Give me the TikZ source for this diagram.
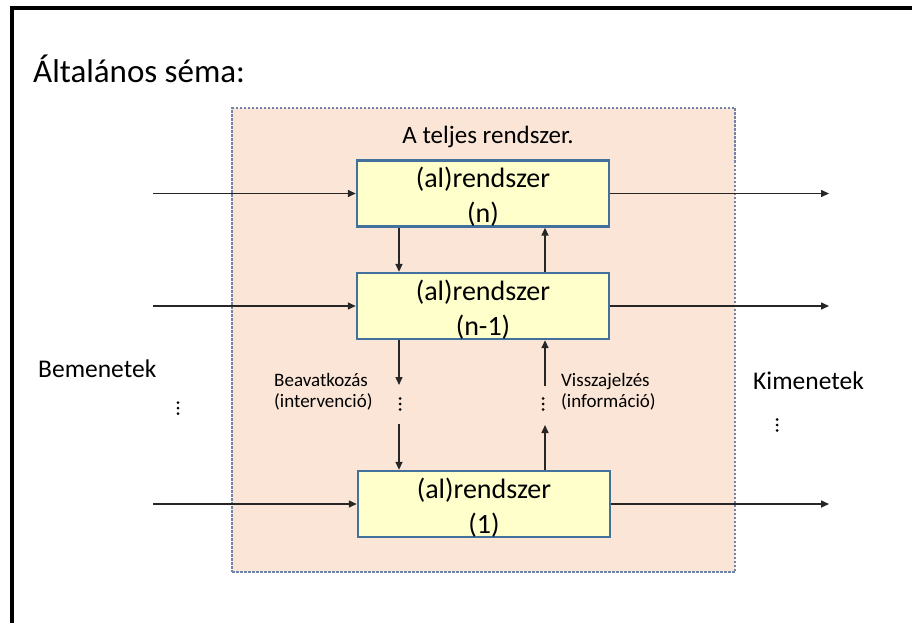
\documentclass[tikz,border=0pt]{standalone}
\usepackage{fontspec}
\setmainfont{Carlito}
\usetikzlibrary{arrows.meta}
\definecolor{sysfill}{HTML}{FBE5D6}
\definecolor{sysedge}{HTML}{6F84A8}
\definecolor{subfill}{HTML}{FFFFCC}
\definecolor{subedge}{HTML}{41719C}
\definecolor{wire}{HTML}{262626}
\tikzset{
  subbox/.style={draw=subedge, fill=subfill, line width=2.5pt,
    minimum width=252pt, minimum height=64pt, inner sep=0pt,
    align=center, font=\fontsize{28}{35}\selectfont},
  flow/.style={draw=wire, line width=1.5pt,
    -{Triangle[length=8pt,width=7pt]}},
  lbl/.style={inner sep=0pt, text=black},
  dot/.style={fill=black, draw=none}
}
% first line of a subsystem box, with a strut that sets the text a little lower
\newcommand{\subtop}[1]{\rule{0pt}{27pt}#1}
\newcommand{\vdotsat}[1]{%
  \fill[dot] (#1) ++(0,-5.5) circle (1.5pt);
  \fill[dot] (#1) circle (1.5pt);
  \fill[dot] (#1) ++(0,5.5) circle (1.5pt);}
\begin{document}
\begin{tikzpicture}[x=1pt,y=-1pt]
\useasboundingbox (0,0) rectangle (912,623);
% slide frame
\draw[line width=4pt, black] (12,623) -- (12,8) -- (912,8);
% title
\node[lbl, anchor=base west, font=\fontsize{33}{40}\selectfont] (title) at (33,83) {Általános séma:};
% whole system area
\node[draw=sysedge, fill=sysfill, dash pattern=on 2.5pt off 1.5pt, line width=1.3pt,
  minimum width=503pt, minimum height=464pt, inner sep=0pt] (sys) at (483.5,340) {};
\node[lbl, anchor=base, font=\fontsize{25}{30}\selectfont] (systitle) at (488,143) {A teljes rendszer.};
% subsystems
\node[subbox] (sn) at (483,193.5) {\subtop{(al)rendszer}\\(n)};
\node[subbox] (snm) at (483,306) {\subtop{(al)rendszer}\\(n-1)};
\node[subbox] (s1) at (484,504) {\subtop{(al)rendszer}\\(1)};
% inputs and outputs
\coordinate (in1) at (153,193.5);
\coordinate (in2) at (153,306);
\coordinate (in3) at (153,504);
\coordinate (out1) at (829,193.5);
\coordinate (out2) at (829,306);
\coordinate (out3) at (829,504);
\draw[flow] (in1) -- (sn.west);
\draw[flow] (in2) -- (snm.west);
\draw[flow] (in3) -- (s1.west);
\draw[flow] (sn.east) -- (out1);
\draw[flow] (snm.east) -- (out2);
\draw[flow] (s1.east) -- (out3);
% control (down) and feedback (up) paths
\coordinate (dx) at (399,0);
\coordinate (ux) at (545,0);
\coordinate (d1) at (399,385);
\coordinate (d2) at (399,424);
\coordinate (u1) at (545,386);
\coordinate (u2) at (545,425);
\draw[flow] (dx |- sn.south) -- (dx |- snm.north);
\draw[flow] (ux |- snm.north) -- (ux |- sn.south);
\draw[flow] (dx |- snm.south) -- (d1);
\draw[flow] (d2) -- (dx |- s1.north);
\draw[flow] (ux |- s1.north) -- (u2);
\draw[flow] (u1) -- (ux |- snm.south);
\vdotsat{400,404}
\vdotsat{543,404}
% path labels
\node[lbl, anchor=west, align=left, font=\fontsize{19}{21}\selectfont] (ctl) at (274,392) {Beavatkozás\\(intervenció)};
\node[lbl, anchor=west, align=left, font=\fontsize{19}{21}\selectfont] (fb) at (561,392) {Visszajelzés\\(információ)};
% side labels
\node[lbl, anchor=base west, font=\fontsize{25.5}{30}\selectfont] (inl) at (38,377) {Bemenetek};
\vdotsat{178,408}
\node[lbl, anchor=base west, font=\fontsize{25.5}{30}\selectfont] (outl) at (753,389) {Kimenetek};
\vdotsat{777,425}
\end{tikzpicture}
\end{document}
